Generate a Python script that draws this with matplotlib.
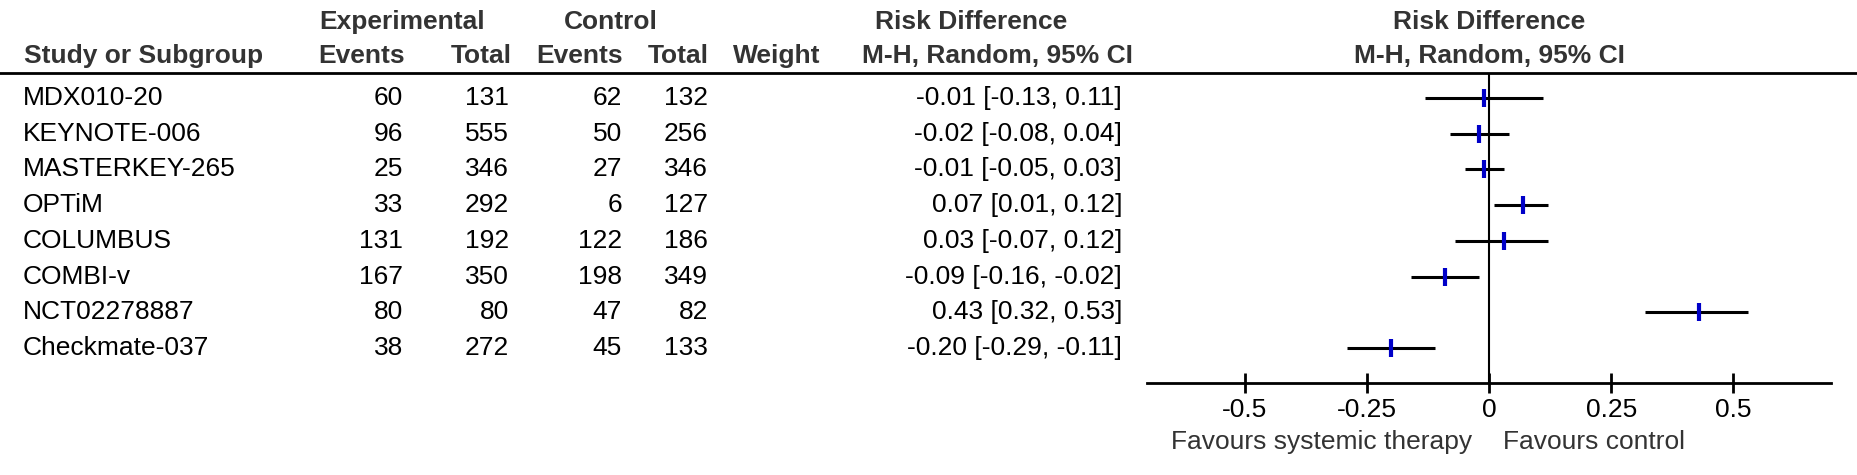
import matplotlib
matplotlib.use('Agg')
import matplotlib.pyplot as plt
import matplotlib.transforms as mtransforms

plt.rcParams['font.family'] = ['Liberation Sans', 'DejaVu Sans']

# data
studies = ['MDX010-20', 'KEYNOTE-006', 'MASTERKEY-265', 'OPTiM', 'COLUMBUS',
           'COMBI-v', 'NCT02278887', 'Checkmate-037']
exp_events = [60, 96, 25, 33, 131, 167, 80, 38]
exp_total = [131, 555, 346, 292, 192, 350, 80, 272]
ctl_events = [62, 50, 27, 6, 122, 198, 47, 45]
ctl_total = [132, 256, 346, 127, 186, 349, 82, 133]
rd = [-0.01, -0.02, -0.01, 0.07, 0.03, -0.09, 0.43, -0.20]
ci_low = [-0.13, -0.08, -0.05, 0.01, -0.07, -0.16, 0.32, -0.29]
ci_high = [0.11, 0.04, 0.03, 0.12, 0.12, -0.02, 0.53, -0.11]
xticks = [-0.5, -0.25, 0, 0.25, 0.5]
xtick_labels = ['-0.5', '-0.25', '0', '0.25', '0.5']

W, H = 1857, 475
fig = plt.figure(figsize=(W / 100, H / 100), dpi=100)

def fx(px):
    return px / W

def fy(py):
    return 1 - py / H

FS = 19

# forest plot axes: spans from header rule down to the x axis line
ax_left, ax_right = 1147, 1831
ax_top, ax_bottom = 73, 383
ax = fig.add_axes([fx(ax_left), fy(ax_bottom), fx(ax_right - ax_left),
                   (ax_bottom - ax_top) / H])
ax.set_xlim(-0.70, 0.70)
ax.set_ylim(7.98, -0.70)
for s in ['top', 'left', 'right']:
    ax.spines[s].set_visible(False)
ax.spines['bottom'].set_linewidth(2)
ax.set_yticks([])
ax.set_xticks(xticks)
ax.set_xticklabels(xtick_labels)
ax.tick_params(axis='x', direction='inout', length=14, width=2, labelsize=FS,
               pad=4, labelcolor='black')
ax.axvline(0, color='black', lw=1.5)

rows = list(range(len(studies)))
ax.hlines(rows, ci_low, ci_high, color='black', lw=2.2)
ax.plot(rd, rows, ls='none', marker='|', markersize=13, markeredgewidth=3,
        color='#0000c8')

# favours labels placed relative to the zero line
fav_tr = mtransforms.blended_transform_factory(ax.transData, ax.transAxes)
ax.text(-0.035, -0.19, 'Favours systemic therapy', transform=fav_tr,
        ha='right', va='center', fontsize=FS, color='#333333')
ax.text(0.029, -0.19, 'Favours control', transform=fav_tr,
        ha='left', va='center', fontsize=FS, color='#333333')

# header
hdr = dict(fontsize=FS, fontweight='bold', color='#333333', va='center')
fig.text(fx(402), fy(22), 'Experimental', ha='center', **hdr)
fig.text(fx(611), fy(22), 'Control', ha='center', **hdr)
fig.text(fx(971), fy(22), 'Risk Difference', ha='center', **hdr)
fig.text(fx(1489), fy(22), 'Risk Difference', ha='center', **hdr)
fig.text(fx(24), fy(56), 'Study or Subgroup', ha='left', **hdr)
fig.text(fx(405), fy(56), 'Events', ha='right', **hdr)
fig.text(fx(512), fy(56), 'Total', ha='right', **hdr)
fig.text(fx(623), fy(56), 'Events', ha='right', **hdr)
fig.text(fx(709), fy(56), 'Total', ha='right', **hdr)
fig.text(fx(820), fy(56), 'Weight', ha='right', **hdr)
fig.text(fx(997), fy(56), 'M-H, Random, 95% CI', ha='center', **hdr)
fig.text(fx(1489), fy(56), 'M-H, Random, 95% CI', ha='center', **hdr)

fig.add_artist(plt.Line2D([0, 1], [fy(72.5), fy(72.5)], color='black', lw=2,
                          transform=fig.transFigure))

# table rows share the forest axes' y scale
tr = mtransforms.blended_transform_factory(fig.transFigure, ax.transData)
cell = dict(fontsize=FS, color='black', va='center', transform=tr)
for i, name in enumerate(studies):
    fig.text(fx(23), i, name, ha='left', **cell)
    fig.text(fx(403), i, str(exp_events[i]), ha='right', **cell)
    fig.text(fx(509), i, str(exp_total[i]), ha='right', **cell)
    fig.text(fx(622), i, str(ctl_events[i]), ha='right', **cell)
    fig.text(fx(708), i, str(ctl_total[i]), ha='right', **cell)
    fig.text(fx(1122), i, f'{rd[i]:.2f} [{ci_low[i]:.2f}, {ci_high[i]:.2f}]',
             ha='right', **cell)

fig.savefig('out.png', dpi=100)
